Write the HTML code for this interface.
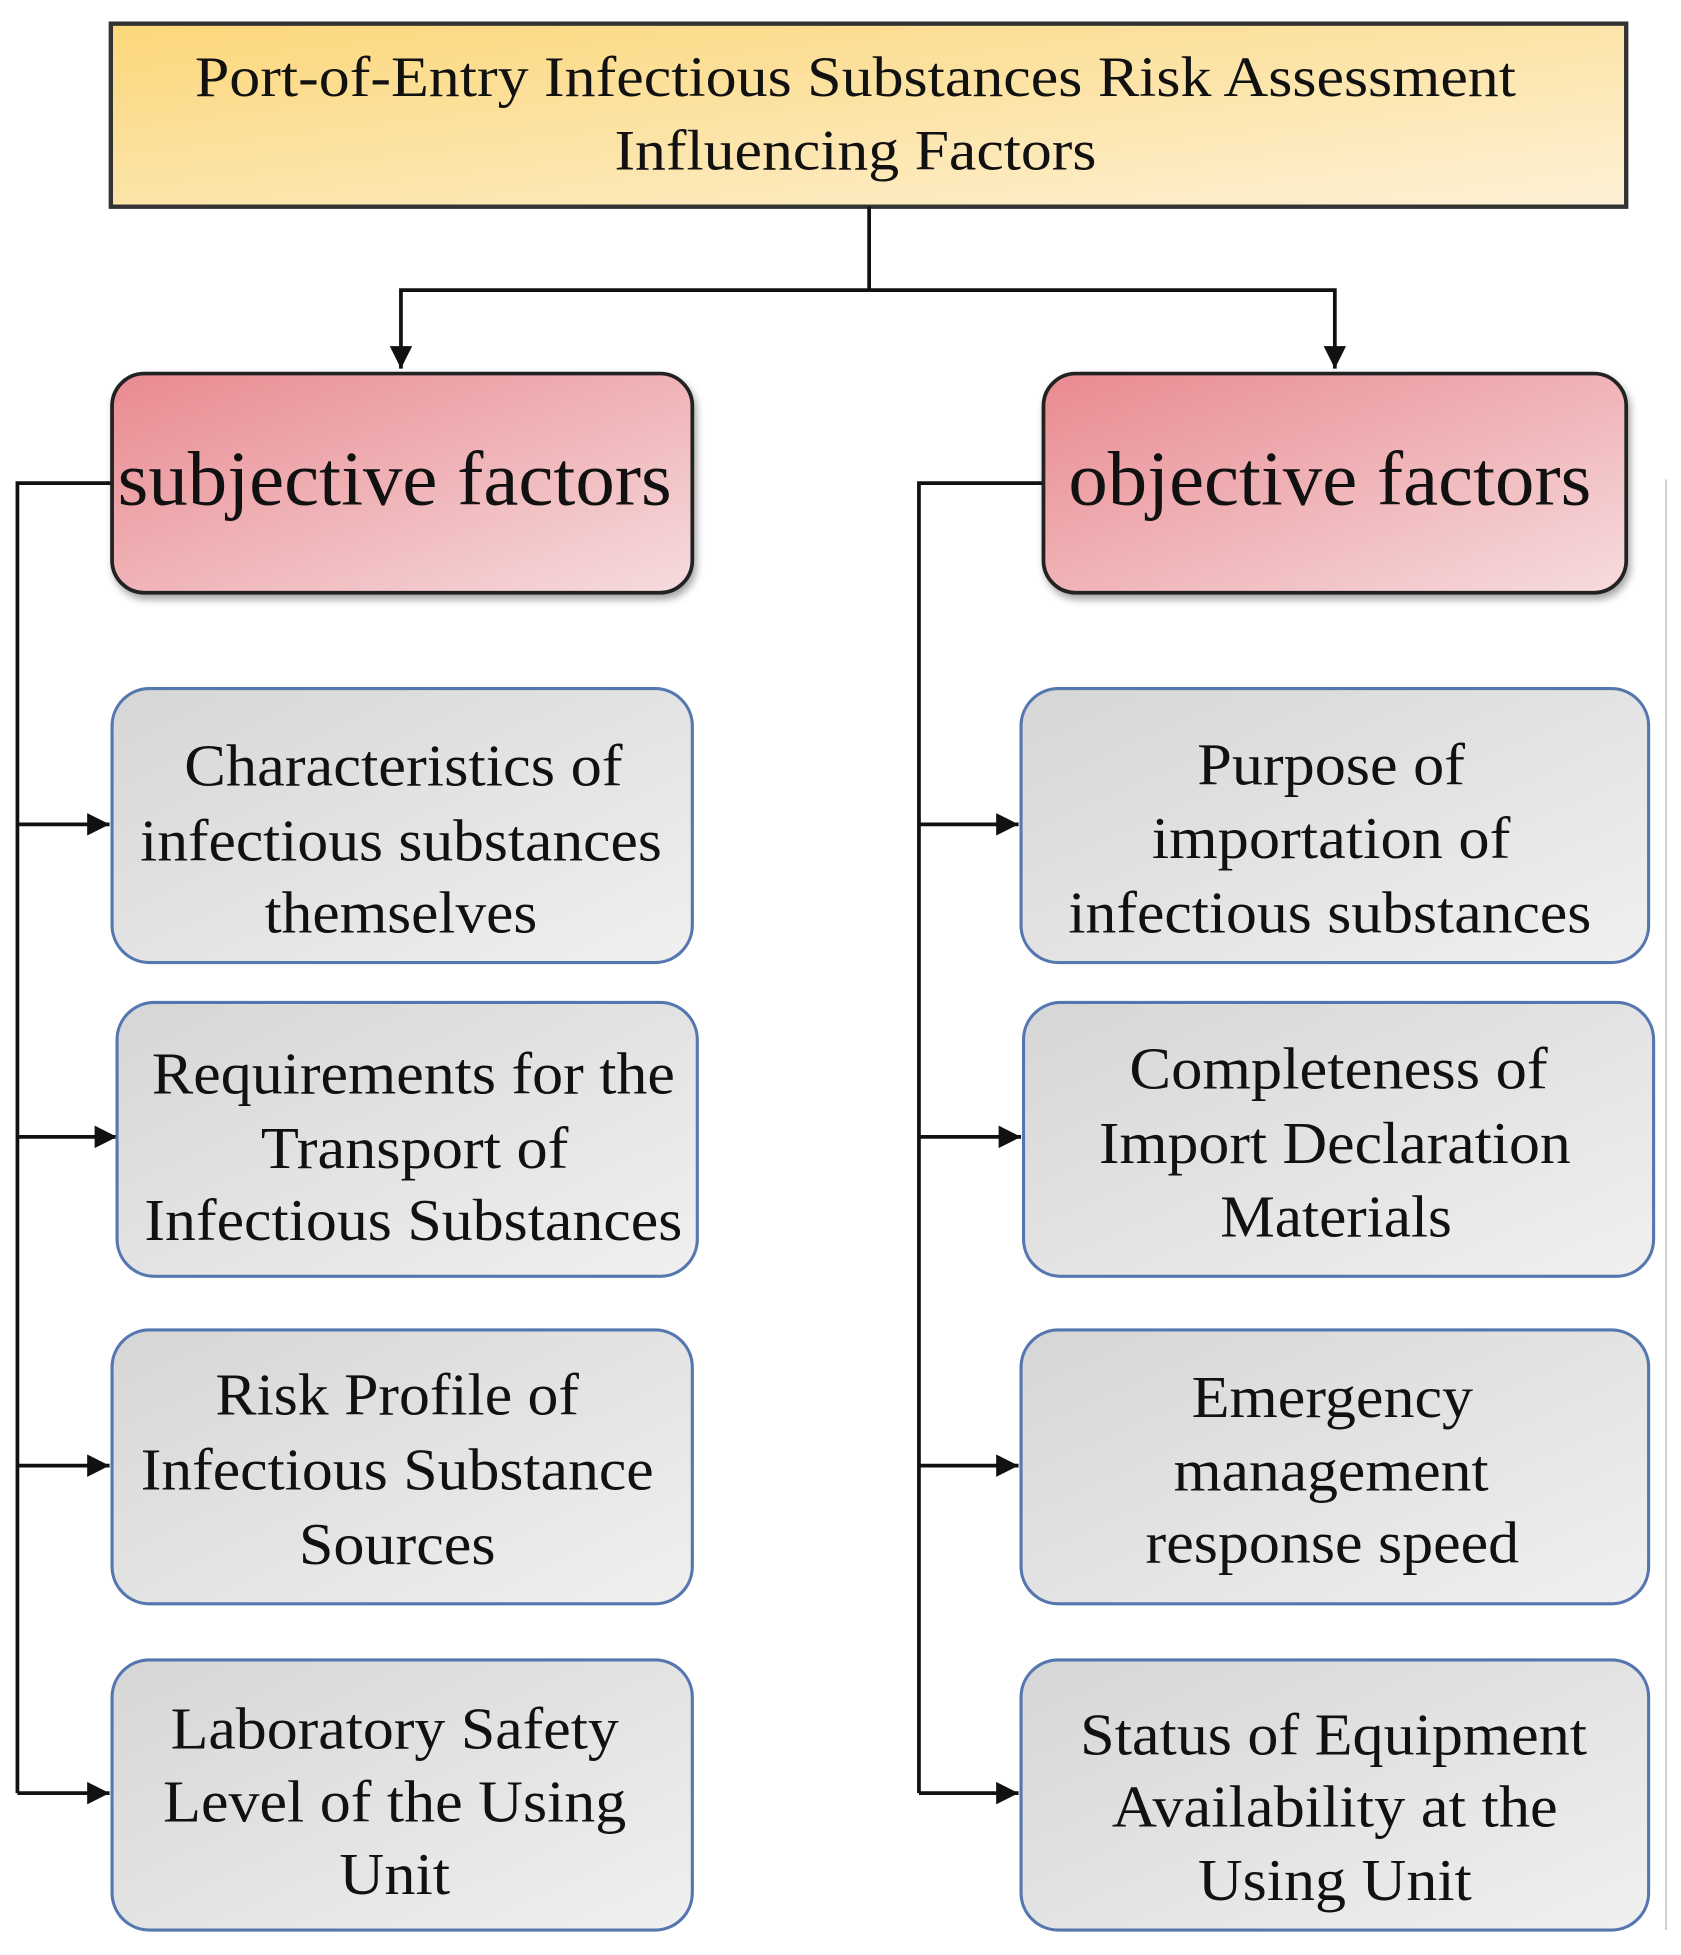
<!DOCTYPE html>
<html><head><meta charset="utf-8"><style>html,body{margin:0;padding:0;background:#fff}svg{display:block}</style></head>
<body>
<svg width="1681" height="1955" viewBox="0 0 1350 1570" preserveAspectRatio="none" xmlns="http://www.w3.org/2000/svg" font-family="'Liberation Serif', serif" fill="#111">
<defs>
<linearGradient id="gy" x1="0" y1="0" x2="1" y2="1"><stop offset="0" stop-color="#fcd77a"/><stop offset="1" stop-color="#fdf1d6"/></linearGradient>
<linearGradient id="gr" x1="0" y1="0" x2="1" y2="1"><stop offset="0" stop-color="#e98a90"/><stop offset="1" stop-color="#f6dcde"/></linearGradient>
<linearGradient id="gg" x1="0" y1="0" x2="1" y2="1"><stop offset="0" stop-color="#d6d6d6"/><stop offset="1" stop-color="#f0f0f0"/></linearGradient>
<filter id="sh" x="-5%" y="-5%" width="115%" height="120%"><feDropShadow dx="2" dy="4" stdDeviation="3" flood-color="#000" flood-opacity="0.35"/></filter>
<marker id="ar" viewBox="0 0 10 10" refX="10" refY="5" markerWidth="6" markerHeight="6" orient="auto"><path d="M0,0 L10,5 L0,10 z" fill="#111"/></marker>
</defs>
<rect x="89" y="19" width="1217" height="147" fill="url(#gy)" stroke="#333" stroke-width="3.5"/>
<text x="687" y="77" font-size="46" text-anchor="middle" textLength="1061" lengthAdjust="spacingAndGlyphs">Port-of-Entry Infectious Substances Risk Assessment</text>
<text x="687" y="136" font-size="46" text-anchor="middle" textLength="387" lengthAdjust="spacingAndGlyphs">Influencing Factors</text>
<g stroke="#111" stroke-width="3" fill="none">
<path d="M698 166 V233 H322 V296" marker-end="url(#ar)"/>
<path d="M698 233 H1072 V296" marker-end="url(#ar)"/>
<path d="M92 388 H14 V1440"/>
<path d="M838 388 H738 V1440"/>
<path d="M14 662 H88" marker-end="url(#ar)"/>
<path d="M14 913 H94" marker-end="url(#ar)"/>
<path d="M14 1177 H88" marker-end="url(#ar)"/>
<path d="M14 1440 H88" marker-end="url(#ar)"/>
<path d="M738 662 H818" marker-end="url(#ar)"/>
<path d="M738 913 H820" marker-end="url(#ar)"/>
<path d="M738 1177 H818" marker-end="url(#ar)"/>
<path d="M738 1440 H818" marker-end="url(#ar)"/>
</g>
<line x1="1338" y1="385" x2="1338" y2="1550" stroke="#ccc" stroke-width="1.5"/>
<rect x="90" y="300" width="466" height="176" rx="26" fill="url(#gr)" stroke="#222" stroke-width="3" filter="url(#sh)"/>
<rect x="838" y="300" width="468" height="176" rx="26" fill="url(#gr)" stroke="#222" stroke-width="3" filter="url(#sh)"/>
<text x="317" y="405" font-size="62" text-anchor="middle" textLength="445" lengthAdjust="spacingAndGlyphs">subjective factors</text>
<text x="1068" y="405" font-size="62" text-anchor="middle" textLength="420" lengthAdjust="spacingAndGlyphs">objective factors</text>
<g fill="url(#gg)" stroke="#5577b0" stroke-width="2.5">
<rect x="90" y="553" width="466" height="220" rx="30"/>
<rect x="94" y="805" width="466" height="220" rx="30"/>
<rect x="90" y="1068" width="466" height="220" rx="30"/>
<rect x="90" y="1333" width="466" height="217" rx="30"/>
<rect x="820" y="553" width="504" height="220" rx="30"/>
<rect x="822" y="805" width="506" height="220" rx="30"/>
<rect x="820" y="1068" width="504" height="220" rx="30"/>
<rect x="820" y="1333" width="504" height="217" rx="30"/>
</g>
<g font-size="48" text-anchor="middle">
<text x="324" y="631" textLength="352" lengthAdjust="spacingAndGlyphs">Characteristics of</text>
<text x="322" y="691" textLength="419" lengthAdjust="spacingAndGlyphs">infectious substances</text>
<text x="322" y="749" textLength="219" lengthAdjust="spacingAndGlyphs">themselves</text>
<text x="332" y="878" textLength="420" lengthAdjust="spacingAndGlyphs">Requirements for the</text>
<text x="333" y="938" textLength="247" lengthAdjust="spacingAndGlyphs">Transport of</text>
<text x="332" y="996" textLength="432" lengthAdjust="spacingAndGlyphs">Infectious Substances</text>
<text x="319" y="1136" textLength="292" lengthAdjust="spacingAndGlyphs">Risk Profile of</text>
<text x="319" y="1196" textLength="412" lengthAdjust="spacingAndGlyphs">Infectious Substance</text>
<text x="319" y="1256" textLength="158" lengthAdjust="spacingAndGlyphs">Sources</text>
<text x="317" y="1404" textLength="360" lengthAdjust="spacingAndGlyphs">Laboratory Safety</text>
<text x="317" y="1463" textLength="372" lengthAdjust="spacingAndGlyphs">Level of the Using</text>
<text x="317" y="1521" textLength="89" lengthAdjust="spacingAndGlyphs">Unit</text>
<text x="1069" y="630" textLength="215" lengthAdjust="spacingAndGlyphs">Purpose of</text>
<text x="1069" y="689" textLength="288" lengthAdjust="spacingAndGlyphs">importation of</text>
<text x="1068" y="749" textLength="420" lengthAdjust="spacingAndGlyphs">infectious substances</text>
<text x="1075" y="874" textLength="336" lengthAdjust="spacingAndGlyphs">Completeness of</text>
<text x="1072" y="934" textLength="379" lengthAdjust="spacingAndGlyphs">Import Declaration</text>
<text x="1073" y="993" textLength="186" lengthAdjust="spacingAndGlyphs">Materials</text>
<text x="1070" y="1138" textLength="226" lengthAdjust="spacingAndGlyphs">Emergency</text>
<text x="1069" y="1197" textLength="253" lengthAdjust="spacingAndGlyphs">management</text>
<text x="1070" y="1255" textLength="300" lengthAdjust="spacingAndGlyphs">response speed</text>
<text x="1071" y="1409" textLength="407" lengthAdjust="spacingAndGlyphs">Status of Equipment</text>
<text x="1072" y="1467" textLength="358" lengthAdjust="spacingAndGlyphs">Availability at the</text>
<text x="1072" y="1526" textLength="220" lengthAdjust="spacingAndGlyphs">Using Unit</text>
</g>
</svg>
</body></html>
